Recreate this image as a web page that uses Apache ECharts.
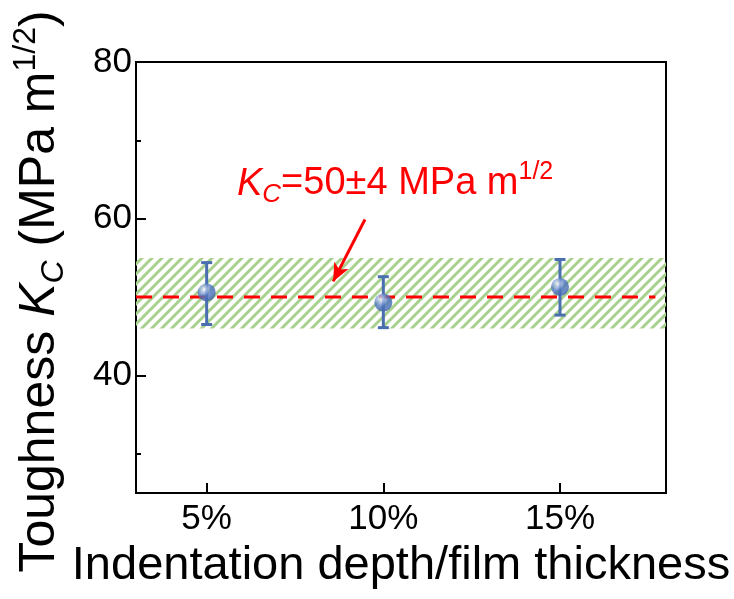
<!DOCTYPE html>
<html><head><meta charset="utf-8">
<script src="https://cdn.jsdelivr.net/npm/echarts@6/dist/echarts.min.js"></script>
<style>html,body{margin:0;padding:0;background:#fff}#c{width:734px;height:599px}</style>
</head><body><div id="c"></div>
<script>
// ---- data ----
const depthRatio = [5, 10, 15];          // indentation depth / film thickness (%)
const toughness  = [50.6, 49.3, 51.3];   // K_C (MPa m^1/2)
const errLow     = [46.5, 46.1, 47.7];
const errHigh    = [54.4, 52.6, 54.8];
const meanKc     = 50;
const bandRange  = [46, 55];
const xTicks     = [5, 10, 15];
const yMajorTicks = [40, 60, 80];
const yMinorTicks = [30, 50, 70];
const arrowFrom  = [9.48, 59.9];
const arrowTo    = [8.58, 52.0];

const FONT = "'Liberation Sans', Arial, sans-serif";
const chart = echarts.init(document.getElementById('c'));

// hatch pattern
const pc = document.createElement('canvas');
pc.width = 10; pc.height = 10;
const g = pc.getContext('2d');
g.strokeStyle = '#a9d18e'; g.lineWidth = 3;
g.beginPath();
g.moveTo(-5, 5); g.lineTo(5, -5);
g.moveTo(0, 10); g.lineTo(10, 0);
g.moveTo(5, 15); g.lineTo(15, 5);
g.stroke();

const barColor = '#4a6fb0';
const points = depthRatio.map((x, i) => [x, toughness[i]]);
const bars = depthRatio.map((x, i) => [x, errLow[i], errHigh[i]]);

chart.setOption({
  animation: false,
  grid: { left: 136, right: 68, top: 62, bottom: 106, show: true, borderColor: '#000', borderWidth: 2, backgroundColor: 'rgba(0,0,0,0)' },
  xAxis: {
    type: 'value', min: 3, max: 18,
    name: 'Indentation depth/film thickness', nameLocation: 'middle', nameGap: 50,
    nameTextStyle: { fontFamily: FONT, fontSize: 47, color: '#000' },
    axisLine: { show: true, lineStyle: { color: '#000', width: 2 } },
    axisTick: { show: true, inside: true, length: 10, customValues: xTicks, lineStyle: { color: '#000', width: 2 } },
    axisLabel: { customValues: xTicks, formatter: v => v + '%', fontFamily: FONT, fontSize: 35, color: '#000', margin: 9 },
    splitLine: { show: false }
  },
  yAxis: [{
    type: 'value', min: 25, max: 80,
    name: '{n|Toughness }{i|K}{s|C}{n| (MPa m}{p|1/2}{n|)}',
    nameLocation: 'middle', nameGap: 66, nameRotate: 90,
    nameTextStyle: {
      fontFamily: FONT, fontSize: 50, color: '#000', padding: [0, 28, 0, 0],
      rich: {
        n: { fontFamily: FONT, fontSize: 50, lineHeight: 60, color: '#000' },
        i: { fontFamily: FONT, fontSize: 50, lineHeight: 60, fontStyle: 'italic', color: '#000' },
        s: { fontFamily: FONT, fontSize: 32, fontStyle: 'italic', verticalAlign: 'bottom', color: '#000' },
        p: { fontFamily: FONT, fontSize: 32, verticalAlign: 'top', color: '#000' }
      }
    },
    axisLine: { show: true, lineStyle: { color: '#000', width: 2 } },
    axisTick: { show: true, inside: true, length: 10, customValues: yMajorTicks, lineStyle: { color: '#000', width: 2 } },
    axisLabel: { customValues: yMajorTicks, fontFamily: FONT, fontSize: 35, color: '#000', margin: 4 },
    splitLine: { show: false }
  }, {
    type: 'value', min: 25, max: 80, position: 'left',
    axisLine: { show: false },
    axisTick: { show: true, inside: true, length: 5, customValues: yMinorTicks, lineStyle: { color: '#000', width: 2 } },
    axisLabel: { show: false },
    splitLine: { show: false }
  }],
  graphic: [{
    type: 'text', x: 237, y: 160, z: 100,
    style: {
      text: '{i|K}{s|C}{n|=50±4 MPa m}{p|1/2}',
      rich: {
        n: { fontFamily: FONT, fontSize: 38, lineHeight: 48, fill: '#ff0000' },
        i: { fontFamily: FONT, fontSize: 38, lineHeight: 48, fontStyle: 'italic', fill: '#ff0000' },
        s: { fontFamily: FONT, fontSize: 26, fontStyle: 'italic', verticalAlign: 'bottom', fill: '#ff0000' },
        p: { fontFamily: FONT, fontSize: 25, verticalAlign: 'top', fill: '#ff0000' }
      }
    }
  }],
  series: [{
    name: 'mean', type: 'line', z: 3,
    data: [[3, meanKc], [17.7, meanKc]],
    symbol: 'none',
    lineStyle: { color: '#ff0000', width: 3, type: [16, 11] },
    markArea: {
      silent: true,
      itemStyle: { color: { image: pc, repeat: 'repeat' } },
      data: [[{ xAxis: 3, yAxis: bandRange[0] }, { xAxis: 18, yAxis: bandRange[1] }]]
    },
    markLine: {
      silent: true, symbol: ['none', 'arrow'], symbolSize: [12, 18],
      label: { show: false },
      lineStyle: { color: '#ff0000', width: 3, type: 'solid' },
      data: [[{ coord: arrowFrom }, { coord: arrowTo }]]
    }
  }, {
    name: 'error', type: 'custom', z: 4,
    data: bars,
    renderItem(params, api) {
      const x = api.value(0);
      const lo = api.coord([x, api.value(1)]);
      const hi = api.coord([x, api.value(2)]);
      const hw = 5.5;
      const st = { stroke: barColor, lineWidth: 3 };
      return { type: 'group', children: [
        { type: 'line', shape: { x1: lo[0], y1: lo[1], x2: hi[0], y2: hi[1] }, style: st },
        { type: 'line', shape: { x1: lo[0] - hw, y1: lo[1], x2: lo[0] + hw, y2: lo[1] }, style: st },
        { type: 'line', shape: { x1: hi[0] - hw, y1: hi[1], x2: hi[0] + hw, y2: hi[1] }, style: st }
      ]};
    }
  }, {
    name: 'toughness', type: 'scatter', z: 5,
    data: points, symbol: 'circle', symbolSize: 18,
    itemStyle: {
      color: new echarts.graphic.RadialGradient(0.36, 0.32, 0.75, [
        { offset: 0, color: '#ffffff' },
        { offset: 0.18, color: '#b9c9ea' },
        { offset: 0.5, color: '#5178c2' },
        { offset: 1, color: '#3a5fa6' }
      ])
    }
  }]
});
</script></body></html>
